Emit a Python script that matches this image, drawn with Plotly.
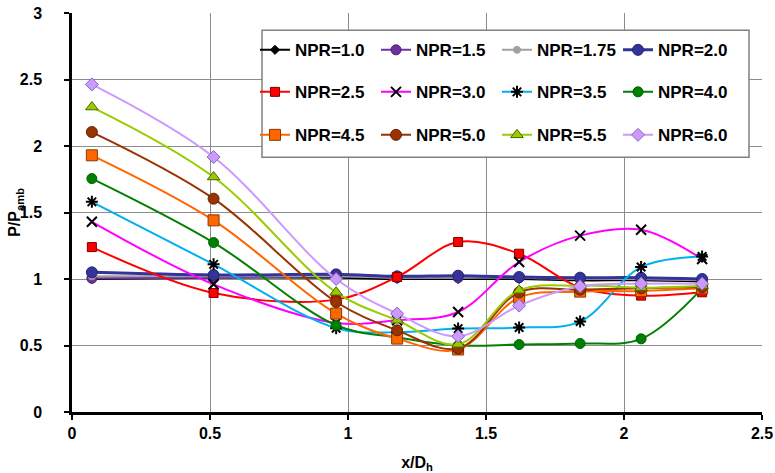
import plotly.graph_objects as go

# ---- data ----
x_pos = [0.072, 0.513, 0.957, 1.178, 1.399, 1.62, 1.841, 2.062, 2.283]

npr_1_0 = [1.00, 1.01, 1.01, 1.00, 1.00, 1.00, 0.99, 0.99, 0.98]
npr_1_5 = [1.005, 1.01, 1.02, 1.01, 1.01, 1.01, 1.00, 1.00, 0.99]
npr_1_75 = [1.02, 1.02, 1.02, 1.01, 1.01, 1.01, 1.00, 1.00, 0.99]
npr_2_0 = [1.05, 1.03, 1.035, 1.02, 1.025, 1.015, 1.01, 1.01, 1.00]
npr_2_5 = [1.24, 0.895, 0.845, 1.015, 1.278, 1.19, 0.935, 0.875, 0.90]
npr_3_0 = [1.43, 0.96, 0.67, 0.69, 0.752, 1.128, 1.326, 1.37, 1.15]
npr_3_5 = [1.58, 1.11, 0.63, 0.60, 0.627, 0.635, 0.68, 1.09, 1.17]
npr_4_0 = [1.755, 1.274, 0.652, 0.56, 0.50, 0.507, 0.515, 0.55, 0.93]
npr_4_5 = [1.93, 1.441, 0.74, 0.552, 0.47, 0.86, 0.905, 0.91, 0.93]
npr_5_0 = [2.105, 1.604, 0.827, 0.614, 0.477, 0.90, 0.92, 0.93, 0.94]
npr_5_5 = [2.293, 1.767, 0.90, 0.69, 0.509, 0.915, 0.95, 0.935, 0.95]
npr_6_0 = [2.463, 1.917, 1.00, 0.74, 0.569, 0.80, 0.945, 0.965, 0.965]

series_names = ["NPR=1.0", "NPR=1.5", "NPR=1.75", "NPR=2.0",
                "NPR=2.5", "NPR=3.0", "NPR=3.5", "NPR=4.0",
                "NPR=4.5", "NPR=5.0", "NPR=5.5", "NPR=6.0"]
series_values = [npr_1_0, npr_1_5, npr_1_75, npr_2_0,
                 npr_2_5, npr_3_0, npr_3_5, npr_4_0,
                 npr_4_5, npr_5_0, npr_5_5, npr_6_0]

x_ticks = [0, 0.5, 1, 1.5, 2, 2.5]
y_ticks = [0, 0.5, 1, 1.5, 2, 2.5, 3]
x_title = "x/D<sub>h</sub>"
y_title = "P/P<sub>amb</sub>"

# ---- styles ----
styles = [
    dict(line="#000000", sym="diamond", size=7, fill="#000000", edge="#000000", w=2),
    dict(line="#7030A0", sym="circle", size=10, fill="#7030A0", edge="#4B1F70", w=2),
    dict(line="#A0A0A0", sym="circle", size=7, fill="#A0A0A0", edge="#A0A0A0", w=2),
    dict(line="#333399", sym="circle", size=11, fill="#333399", edge="#26266F", w=3),
    dict(line="#FF0000", sym="square", size=9, fill="#FF0000", edge="#800000", w=2),
    dict(line="#FF00FF", sym="x-thin-open", size=10, fill="#000000", edge="#000000", w=2),
    dict(line="#00B0F0", sym="asterisk-open", size=10, fill="#000000", edge="#000000", w=2),
    dict(line="#008000", sym="circle", size=10, fill="#008000", edge="#006000", w=2),
    dict(line="#FF6600", sym="square", size=11, fill="#FF6600", edge="#8A3A00", w=2),
    dict(line="#993300", sym="circle", size=11, fill="#993300", edge="#662200", w=2),
    dict(line="#99CC00", sym="triangle-up", size=11, fill="#99CC00", edge="#4D6600", w=2),
    dict(line="#CC99FF", sym="diamond", size=10, fill="#CC99FF", edge="#8A6AB0", w=2),
]

FONT = "Liberation Sans, Arial, sans-serif"

fig = go.Figure()
legend_ids = ["legend", "legend2", "legend3"]
for i, (name, vals, st) in enumerate(zip(series_names, series_values, styles)):
    open_sym = st["sym"].endswith("-open")
    fig.add_trace(go.Scatter(
        x=x_pos, y=vals, name=name, mode="lines+markers",
        line=dict(color=st["line"], width=st["w"], shape="spline", smoothing=1.0),
        marker=dict(symbol=st["sym"], size=st["size"], color=st["fill"],
                    line=dict(color=st["edge"], width=2 if open_sym else 1)),
        legend=legend_ids[i // 4],
    ))

FIG_W, FIG_H = 775, 473
# plot area in window pixels
L, R, T, B = 72, 762, 12.7, 411.7
W, H = R - L, B - T


def px_x(p):
    return (p - L) / W


def px_y(p):
    return (B - p) / H


fig.add_shape(type="rect", xref="paper", yref="paper",
              x0=px_x(262), x1=px_x(749), y0=px_y(157), y1=px_y(30),
              line=dict(color="#808080", width=1.5), fillcolor="white",
              layer="above")

# y-axis title, placed as rotated text beside the tick labels
fig.add_annotation(text=y_title, xref="paper", yref="paper",
                   x=px_x(4), y=px_y(212), xanchor="left", yanchor="middle",
                   textangle=-90, showarrow=False,
                   font=dict(family=FONT, size=16, color="black", weight="bold"))

leg_common = dict(orientation="h", xanchor="left", yanchor="middle",
                  bgcolor="rgba(0,0,0,0)", borderwidth=0,
                  entrywidth=76, entrywidthmode="pixels", itemwidth=30,
                  font=dict(family=FONT, size=17, color="black", weight="bold"),
                  traceorder="normal")

fig.update_layout(
    width=FIG_W, height=FIG_H,
    margin=dict(l=L, r=FIG_W - R, t=T, b=FIG_H - B, autoexpand=False),
    paper_bgcolor="white", plot_bgcolor="white",
    font=dict(family=FONT, color="black"),
    legend=dict(x=px_x(255), y=px_y(50), **leg_common),
    legend2=dict(x=px_x(255), y=px_y(92), **leg_common),
    legend3=dict(x=px_x(255), y=px_y(135), **leg_common),
    xaxis=dict(range=[0, 2.5], tickvals=x_ticks, ticktext=[str(v) for v in x_ticks],
               automargin=False, ticklabeloverflow="allow",
               showgrid=True, gridcolor="#8C8C8C", gridwidth=1,
               showline=True, linecolor="black", linewidth=2.5,
               ticks="outside", ticklen=5, tickwidth=2, tickcolor="black",
               zeroline=False, ticklabelstandoff=0,
               tickfont=dict(family=FONT, size=16, color="black", weight="bold"),
               title=dict(text=x_title, standoff=16,
                          font=dict(family=FONT, size=16, color="black", weight="bold"))),
    yaxis=dict(range=[0, 3], tickvals=y_ticks, ticktext=[("%g" % v) for v in y_ticks],
               automargin=False, ticklabeloverflow="allow",
               showgrid=True, gridcolor="#8C8C8C", gridwidth=1,
               showline=True, linecolor="black", linewidth=2.5,
               ticks="outside", ticklen=5, tickwidth=2, tickcolor="black",
               zeroline=False, ticklabelstandoff=19,
               tickfont=dict(family=FONT, size=16, color="black", weight="bold")),
)

# remove the browser's default 8px body margin so the figure fills the window
fig.write_html("out.html",
               config={"displayModeBar": False},
               post_script="document.body.style.margin='0px';document.body.style.overflow='hidden';")
